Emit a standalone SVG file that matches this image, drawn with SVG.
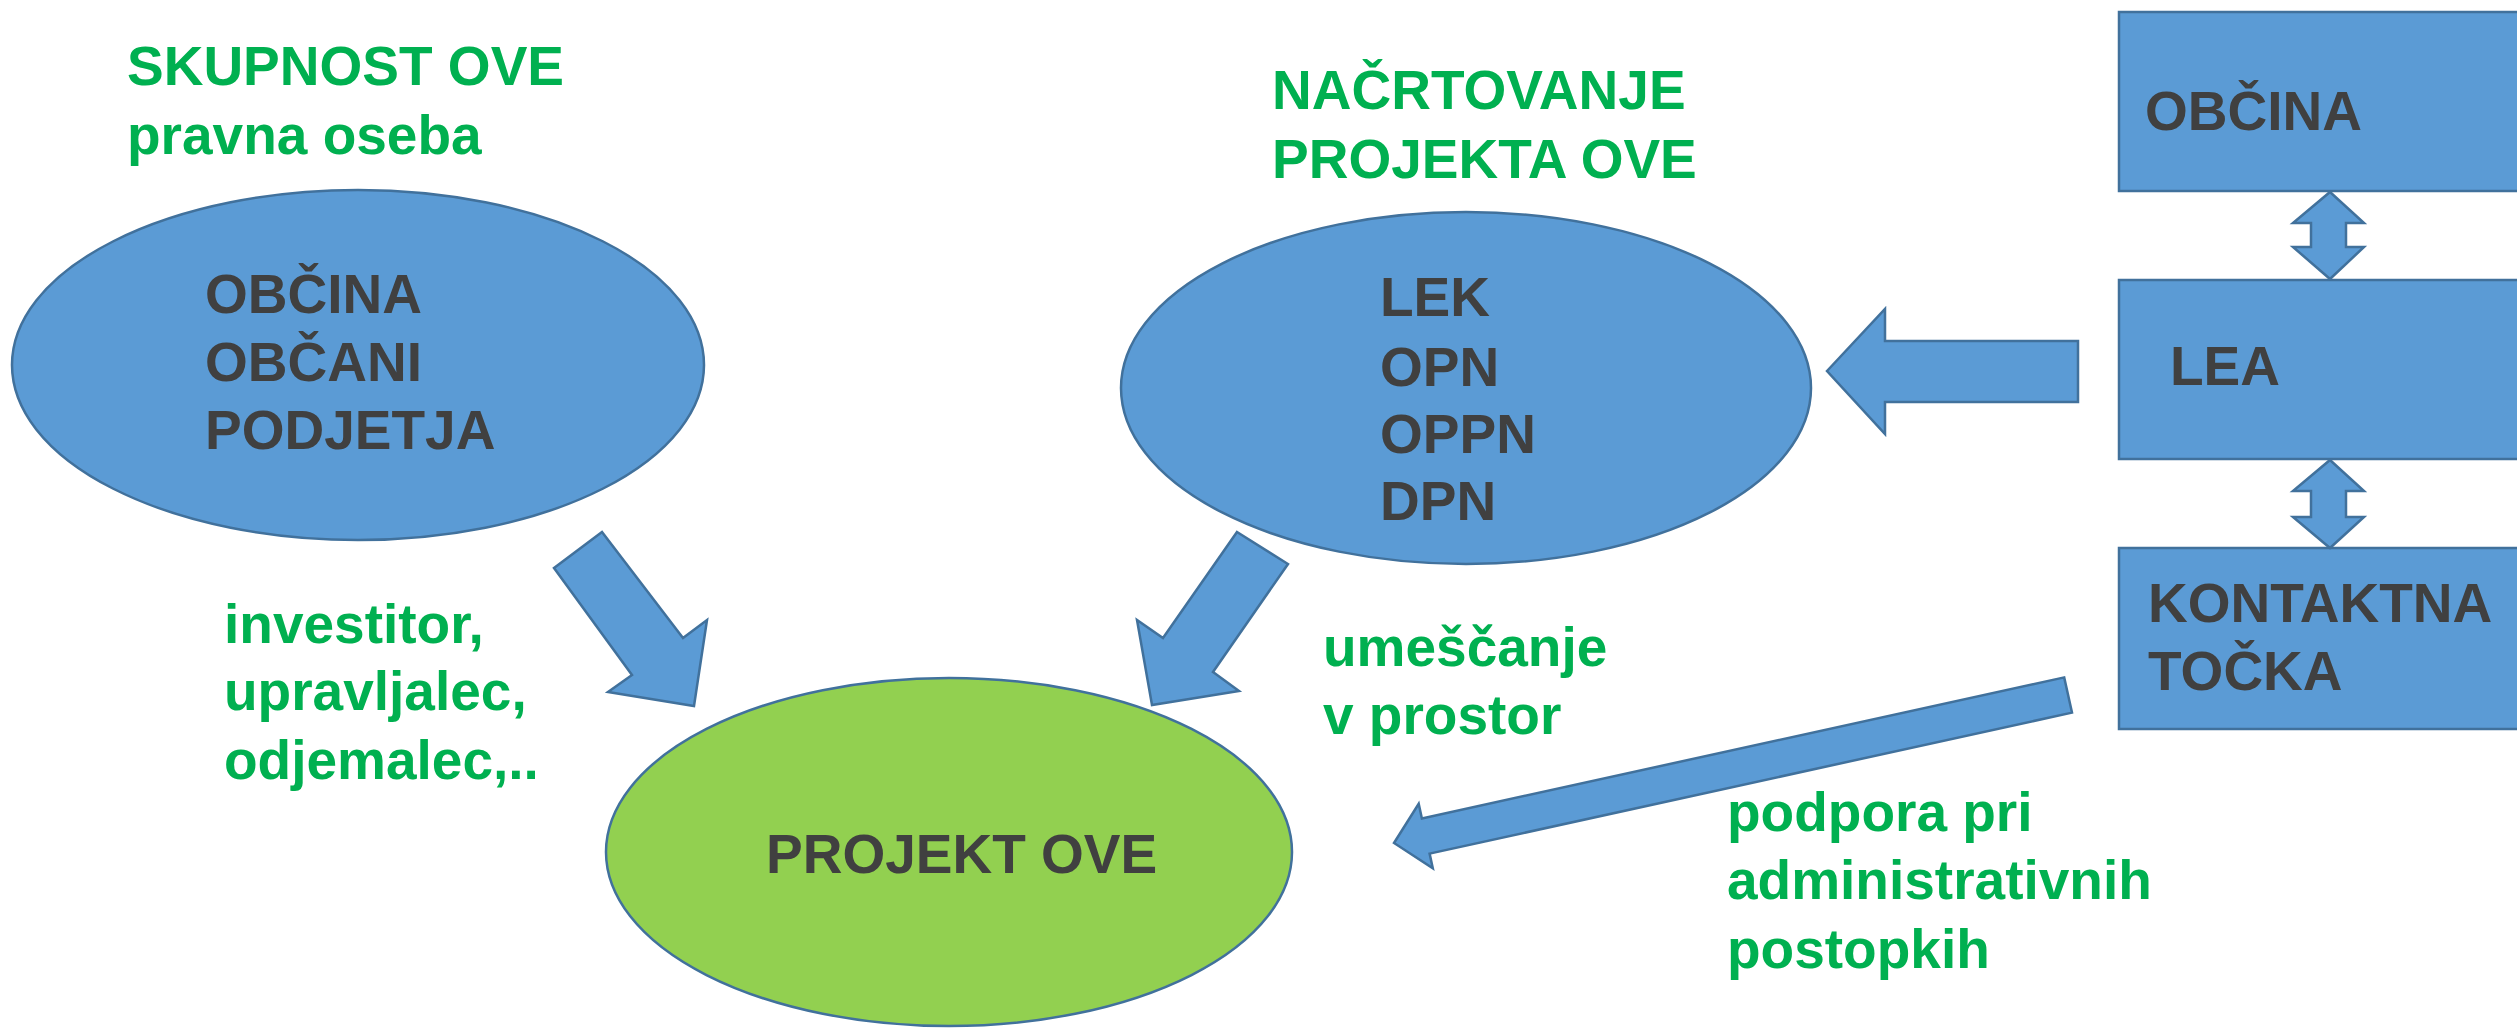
<svg xmlns="http://www.w3.org/2000/svg" width="2517" height="1030" viewBox="0 0 2517 1030">
<style>
.shape{fill:#5B9BD5;stroke:#41719C;stroke-width:2.5}
.green{fill:#92D050;stroke:#41719C;stroke-width:2.5}
.lbl{font-family:"Liberation Sans",Arial,sans-serif;font-weight:bold;font-size:55px;fill:#404040}
.note{font-family:"Liberation Sans",Arial,sans-serif;font-weight:bold;font-size:55px;fill:#00B050}
</style>
<rect width="2517" height="1030" fill="#ffffff"/>
<g id="skupnost-label">
<text class="note" x="127" y="85">SKUPNOST OVE</text>
<text class="note" x="127" y="154">pravna oseba</text>
</g>
<g id="node-skupnost">
<ellipse class="shape" cx="358" cy="365" rx="346" ry="175"/>
<text class="lbl" x="205" y="313">OBČINA</text>
<text class="lbl" x="205" y="381">OBČANI</text>
<text class="lbl" x="205" y="449">PODJETJA</text>
</g>
<g id="nacrtovanje-label">
<text class="note" x="1272" y="109">NAČRTOVANJE</text>
<text class="note" x="1272" y="178">PROJEKTA OVE</text>
</g>
<g id="node-nacrtovanje">
<ellipse class="shape" cx="1466" cy="388" rx="345" ry="176"/>
<text class="lbl" x="1380" y="316">LEK</text>
<text class="lbl" x="1380" y="386">OPN</text>
<text class="lbl" x="1380" y="453">OPPN</text>
<text class="lbl" x="1380" y="520">DPN</text>
</g>
<g id="node-projekt">
<ellipse class="green" cx="949" cy="852" rx="343" ry="174"/>
<text class="lbl" x="766" y="873">PROJEKT OVE</text>
</g>
<g id="node-obcina">
<rect class="shape" x="2119" y="12" width="420" height="179"/>
<text class="lbl" x="2145" y="130">OBČINA</text>
</g>
<g id="node-lea">
<rect class="shape" x="2119" y="280" width="420" height="179"/>
<text class="lbl" x="2170" y="385">LEA</text>
</g>
<g id="node-kontaktna">
<rect class="shape" x="2119" y="548" width="420" height="181"/>
<text class="lbl" x="2148" y="622">KONTAKTNA</text>
<text class="lbl" x="2148" y="690">TOČKA</text>
</g>
<g id="connectors">
<polygon class="shape" points="554,568 602,532 683,638 707,620 694,706 608,692 632,675"/>
<polygon class="shape" points="1237,532 1288,564 1213,672 1239,691 1152,705 1137,620 1163,638"/>
<polygon class="shape" points="1827,371 1885,309 1885,341 2078,341 2078,402 1885,402 1885,434"/>
<polygon class="shape" points="1394,843 1418.7,803.8 1421.9,818.4 2064.2,677.4 2072,712.6 1429.6,853.6 1432.8,868.3"/>
<polygon class="shape" points="2330,192 2364,223 2346,223 2346,247 2364,247 2330,279 2293,247 2311,247 2311,223 2293,223"/>
<polygon class="shape" points="2330,460 2364,491 2346,491 2346,517 2364,517 2330,548 2293,517 2311,517 2311,491 2293,491"/>
</g>
<g id="edge-labels">
<text class="note" x="224" y="643">investitor,</text>
<text class="note" x="224" y="710">upravljalec,</text>
<text class="note" x="224" y="779">odjemalec,..</text>
<text class="note" x="1323" y="666">umeščanje</text>
<text class="note" x="1323" y="734">v prostor</text>
<text class="note" x="1727" y="831">podpora pri</text>
<text class="note" x="1727" y="899">administrativnih</text>
<text class="note" x="1727" y="968">postopkih</text>
</g>
</svg>
